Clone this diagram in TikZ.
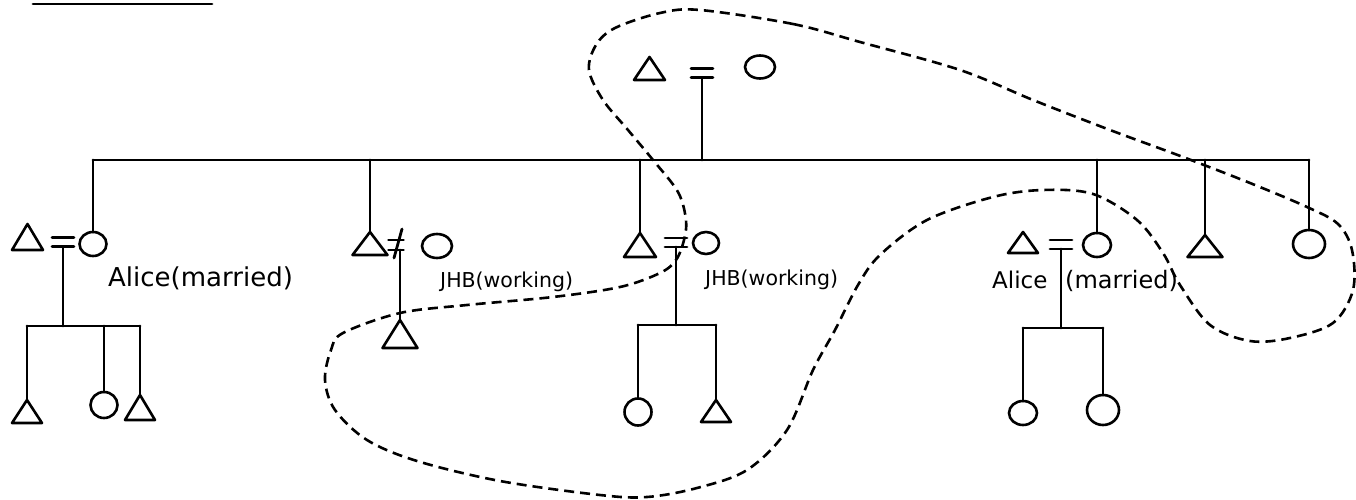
\documentclass[tikz,border=0pt]{standalone}
\usepackage{fontspec}
\setmainfont{DejaVu Sans}
\usetikzlibrary{shapes.geometric}
\begin{document}
\begin{tikzpicture}[x=1pt,y=-1pt,
  ln/.style={line width=2.8pt, line cap=round},
  shp/.style={line width=2.6pt, line join=round},
  person/.style={inner sep=0pt, outer sep=0pt},
  circ/.style={person, ellipse, draw, line width=2.6pt},
  tri/.style={person, rectangle, draw=none},
  marr/.style={person, rectangle, draw=none, minimum width=22pt, minimum height=9pt},
  lbl/.style={inner sep=0pt, anchor=base west},
  kinloop/.style={line width=2.6pt, dash pattern=on 10pt off 6pt}]
\useasboundingbox (0,0) rectangle (1356,500);

% title underline fragment
\coordinate (ulA) at (33,4);
\coordinate (ulB) at (212,4);
\draw[ln] (ulA) -- (ulB);

% ---------- top couple ----------
\node[tri, minimum width=31pt, minimum height=23pt] (t0) at (649.5,68.5) {};
\node[marr] (m0) at (702,73) {};
\node[circ, minimum width=30pt, minimum height=23pt] (c0) at (760,67) {};

% sibling line level
\coordinate (sib) at (0,160);

% ---------- generation 2 ----------
% family 1
\node[circ, minimum width=27pt, minimum height=24pt] (c1) at (93,244) {};
\node[tri, minimum width=31pt, minimum height=26pt] (t1) at (27.5,237) {};
\node[marr] (m1) at (63,242) {};
\coordinate (b1) at (0,326);
\node[tri, minimum width=30pt, minimum height=23pt] (t11) at (27,411.5) {};
\node[circ, minimum width=27pt, minimum height=26pt] (c11) at (104,405) {};
\node[tri, minimum width=30pt, minimum height=25pt] (t12) at (140,407.5) {};
\node[lbl, font=\fontsize{26}{30}\selectfont] (l1) at (108,286) {Alice(married)};

% family 2
\node[tri, minimum width=35pt, minimum height=23pt] (t2) at (370,243.5) {};
\node[person, minimum width=15pt, minimum height=10pt] (n2) at (396,245) {};
\node[circ, minimum width=30pt, minimum height=24pt] (c2) at (437,246) {};
\node[tri, minimum width=35pt, minimum height=28pt] (t21) at (400,334) {};
\node[lbl, font=\fontsize{20.5}{24}\selectfont] (l2) at (440,287) {JHB(working)};

% family 3
\node[tri, minimum width=32pt, minimum height=24pt] (t3) at (640,245) {};
\node[marr] (m3) at (676,242.5) {};
\node[circ, minimum width=26pt, minimum height=22pt] (c3) at (706,243) {};
\coordinate (b3) at (0,325);
\node[circ, minimum width=27pt, minimum height=27pt] (c31) at (638,412) {};
\node[tri, minimum width=30pt, minimum height=22pt] (t32) at (716,411) {};
\node[lbl, font=\fontsize{20.5}{24}\selectfont] (l3) at (705,285) {JHB(working)};

% family 4
\node[tri, minimum width=30pt, minimum height=21pt] (t4) at (1023,242.5) {};
\node[marr] (m4) at (1061,244.5) {};
\node[circ, minimum width=28pt, minimum height=24pt] (c4) at (1097,245) {};
\coordinate (b4) at (0,328);
\node[circ, minimum width=28pt, minimum height=24pt] (c41) at (1023,413) {};
\node[circ, minimum width=32pt, minimum height=30pt] (c42) at (1103,410) {};
\node[lbl, font=\fontsize{23}{27}\selectfont] (l4a) at (992,288) {Alice};
\node[lbl, font=\fontsize{24}{28}\selectfont] (l4b) at (1065,288) {(married)};

% siblings 5 and 6
\node[tri, minimum width=35pt, minimum height=22pt] (t5) at (1205,246) {};
\node[circ, minimum width=32pt, minimum height=28pt] (c6) at (1309,244) {};

% ---------- triangles outlines ----------
\foreach \t in {t0,t1,t11,t12,t2,t21,t3,t32,t4,t5}
  \draw[shp] (\t.south west) -- (\t.north) -- (\t.south east) -- cycle;

% ---------- marriage marks ----------
\foreach \m in {m0,m1,m3,m4}
  \draw[ln] (\m.north west) -- (\m.north east) (\m.south west) -- (\m.south east);
% not-equal mark
\draw[ln] (n2.north west) -- (n2.north east) (n2.south west) -- (n2.south east);
\draw[ln] ([shift={(6pt,16pt)}]n2.center) -- ([shift={(-2pt,-13pt)}]n2.center);

% ---------- descent lines ----------
\draw[ln] (m0.south) -- (m0.south |- sib);
\draw[ln] (c1.north |- sib) -- (c6.north |- sib);
\foreach \k in {c1,t2,t3,c4,t5,c6}
  \draw[ln] (\k.north) -- (\k.north |- sib);

% family 1 children
\draw[ln] (m1.south) -- (m1.south |- b1);
\draw[ln] (t11.north |- b1) -- (t12.north |- b1);
\foreach \k in {t11,c11,t12}
  \draw[ln] (\k.north) -- (\k.north |- b1);

% family 2 child
\draw[ln] (n2.south -| t21.north) -- (t21.north);

% family 3 children
\draw[ln] (m3.south) -- (m3.south |- b3);
\draw[ln] (c31.north |- b3) -- (t32.north |- b3);
\foreach \k in {c31,t32}
  \draw[ln] (\k.north) -- (\k.north |- b3);

% family 4 children
\draw[ln] (m4.south) -- (m4.south |- b4);
\draw[ln] (c41.north |- b4) -- (c42.north |- b4);
\foreach \k in {c41,c42}
  \draw[ln] (\k.north) -- (\k.north |- b4);

% ---------- dashed boundary ----------
\draw[kinloop] plot[smooth cycle, tension=0.55] coordinates {
 (700,10) (793,24) (860,42) (960,70) (1033,100) (1110,130) (1183,157)
 (1250,183) (1307,207) (1338,224) (1352,250) (1353,290) (1333,323)
 (1290,338) (1250,341) (1210,325) (1180,285) (1163,253) (1137,220)
 (1093,194) (1043,190) (993,197) (927,220) (880,255) (858,285)
 (835,330) (813,370) (787,430) (747,470) (697,488) (647,497) (600,495)
 (500,481) (417,461) (367,440) (335,410) (325,380) (331,350) (343,333)
 (400,313) (467,305) (553,297) (620,287) (660,273) (676,260) (684,240)
 (686,220) (678,192) (653,160) (628,130) (603,100) (589,70) (596,45)
 (615,28) (660,13)
};
\end{tikzpicture}
\end{document}
